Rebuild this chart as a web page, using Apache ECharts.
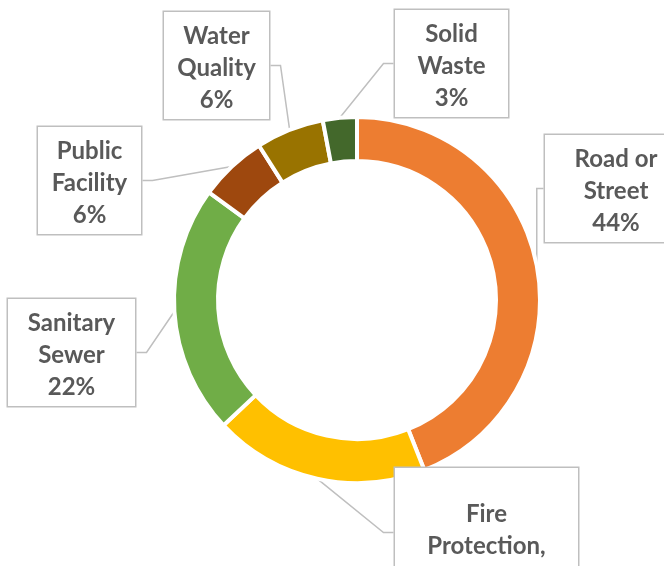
<!DOCTYPE html>
<html>
<head>
<meta charset="utf-8">
<script src="https://cdn.jsdelivr.net/npm/echarts@6/dist/echarts.min.js"></script>
<style>
  html, body { margin: 0; padding: 0; background: #fff; }
  #Donut { width: 664px; height: 566px; }
</style>
</head>
<body>
<div id="Donut"></div>
<script>
// categories in clockwise order from 12 o'clock
var categories = ['Road or Street', 'Fire Protection', 'Sanitary Sewer', 'Public Facility', 'Water Quality', 'Solid Waste'];
var labelNames = ['Road or\nStreet', 'Fire\nProtection,', 'Sanitary\nSewer', 'Public\nFacility', 'Water\nQuality', 'Solid\nWaste'];
var shares = [44, 19, 22, 6, 6, 3];
var colors = ['#ED7D31', '#FFC000', '#70AD47', '#9E480E', '#997300', '#43682B'];

// callout boxes: left, top, width, top padding
var boxes = [
    [545, 135, 142, 8],
    [395, 468, 183, 30],
    [8, 299, 127, 8],
    [38, 127, 103, 8],
    [164, 12, 105, 8],
    [395, 10, 113, 8]
];

var Donut = echarts.init(document.getElementById('Donut'));

var seriesData = categories.map(function (name, i) {
    return {
        name: name,
        value: shares[i],
        itemStyle: { color: colors[i] },
        label: {
            width: boxes[i][2] - 8,
            padding: [boxes[i][3], 4, 3, 4]
        }
    };
});

var option = {
    animation: false,
    series: [
        {
            type: 'pie',
            center: [357, 300],
            radius: [139, 183],
            startAngle: 90,
            clockwise: true,
            avoidLabelOverlap: false,
            itemStyle: {
                borderColor: '#fff',
                borderWidth: 4
            },
            label: {
                show: true,
                formatter: function (p) {
                    return labelNames[p.dataIndex] + '\n' + p.value + '%';
                },
                fontFamily: 'Lato',
                fontWeight: 'bold',
                fontSize: 24,
                lineHeight: 32,
                color: '#595959',
                align: 'center',
                backgroundColor: '#fff',
                borderColor: '#bfbfbf',
                borderWidth: 1.5
            },
            labelLine: {
                show: true,
                length: 10,
                length2: 10,
                lineStyle: { color: '#bfbfbf', width: 1.5 }
            },
            labelLayout: function (params) {
                var b = boxes[params.dataIndex];
                return {
                    x: b[0] + b[2] / 2,
                    y: b[1],
                    align: 'center',
                    verticalAlign: 'top'
                };
            },
            data: seriesData
        }
    ]
};
Donut.setOption(option);
</script>
</body>
</html>
